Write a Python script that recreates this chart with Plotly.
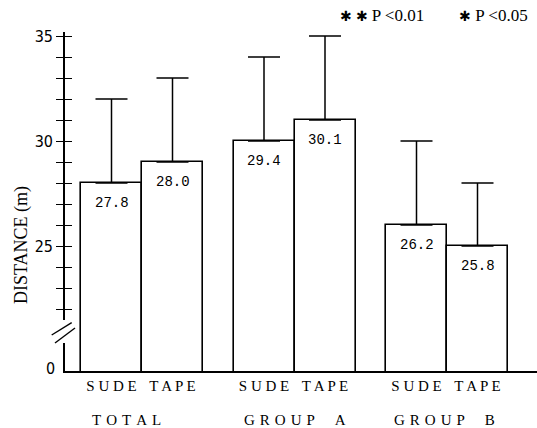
import plotly.graph_objects as go

# ---------------- data ----------------
groups = ["TOTAL", "GROUP A", "GROUP B"]
conditions = ["SUDE", "TAPE"]
bar_tops = [28, 29, 30, 31, 26, 25]            # drawn bar heights (m)
bar_labels = ["27.8", "28.0", "29.4", "30.1", "26.2", "25.8"]
error_tops = [32, 33, 34, 35, 30, 28]          # top of the SD whiskers (m)
y_tick_values = list(range(22, 36))
y_labeled = [25, 30, 35]
legend_stars = ["\u2731 \u2731", "\u2731"]
legend_texts = ["P <0.01", "P <0.05"]

# ---------------- geometry ----------------
W, H = 537, 428
ML, MR, MT, MB = 65, 0, 32, 57
PW, PH = W - ML - MR, H - MT - MB            # 472 x 339
PX_UNIT = 21.0                                # px per metre on the upper part
Y_TOP = 35 + (36 - MT) / PX_UNIT
Y_BOT = 35 - (MT + PH - 36) / PX_UNIT         # position of the broken "0"
BAR_W_PX = 61.0
X_LEFT = -46.5 / BAR_W_PX
X_RIGHT = X_LEFT + PW / BAR_W_PX


def px_x(px):
    return (px - ML) / PW


def px_y(py):
    return 35 - (py - 36) / PX_UNIT


def py_paper(py):
    return 1 - (py - MT) / PH


def spaced(word, gap="\u2004", word_gap="\u2004\u2004\u2004\u2004"):
    return word_gap.join(gap.join(w) for w in word.split(" "))


x_pos = [g * 2.5 + c for g in range(len(groups)) for c in range(len(conditions))]
x_text = [" ".join(c) for g in groups for c in conditions]
err_plus = [e - t for e, t in zip(error_tops, bar_tops)]
err_minus = [0 for _ in bar_tops]

SERIF = "Liberation Serif, Times New Roman, serif"
MONO = "Liberation Mono, DejaVu Sans Mono, monospace"
NARROW = "Liberation Sans Narrow, DejaVu Sans Condensed, Liberation Mono, sans-serif"

fig = go.Figure()
fig.add_trace(go.Bar(
    x=x_pos, y=bar_tops, width=1.0,
    marker=dict(color="white", line=dict(color="black", width=1.6)),
    error_y=dict(type="data", symmetric=False, array=err_plus, arrayminus=err_minus,
                 color="black", thickness=1.5, width=16),
    showlegend=False, hoverinfo="skip",
))
# invisible companion trace so that the inside-tick overlay axis is drawn
fig.add_trace(go.Scatter(x=[x_pos[0]], y=[bar_tops[0]], yaxis="y2", mode="markers",
                         marker=dict(opacity=0), showlegend=False, hoverinfo="skip"))

annotations = []
for x, t, lab in zip(x_pos, bar_tops, bar_labels):
    annotations.append(dict(x=x, y=t, xref="x", yref="y", text=lab, showarrow=False,
                            yshift=-20, xanchor="center", yanchor="middle",
                            font=dict(family=MONO, size=14, color="black")))

group_shift = [-16, 0, -3]
for g, name in enumerate(groups):
    annotations.append(dict(x=g * 2.5 + 0.5, y=py_paper(420), xref="x", yref="paper",
                            text=spaced(name), showarrow=False,
                            xanchor="center", yanchor="middle", xshift=group_shift[g],
                            font=dict(family=SERIF, size=15, color="black")))

# broken-axis zero label
annotations.append(dict(x=0, y=Y_BOT, xref="paper", yref="y", text="0", showarrow=False,
                        xanchor="center", yanchor="middle",
                        xshift=-15, yshift=3, font=dict(family=NARROW, size=16, color="black")))
# y title
annotations.append(dict(x=px_x(21), y=px_y(245), xref="paper", yref="y", text="DISTANCE (m)",
                        textangle=-90, showarrow=False, xanchor="center", yanchor="middle",
                        font=dict(family=SERIF, size=18, color="black")))
# significance legend
for cx, stars, txt in zip([382, 493], legend_stars, legend_texts):
    annotations.append(dict(x=px_x(cx), y=py_paper(15), xref="paper", yref="paper",
                            text=f"<span style='font-size:14px'>{stars}</span> {txt}",
                            showarrow=False, xanchor="center", yanchor="middle",
                            font=dict(family=SERIF, size=17, color="black")))

shapes = [
    # gap in the y axis
    dict(type="rect", xref="paper", yref="y", x0=px_x(60), x1=px_x(70),
         y0=px_y(343), y1=px_y(320), fillcolor="white", line=dict(width=0), layer="above"),
    dict(type="line", xref="paper", yref="y", x0=px_x(51.7), y0=px_y(335),
         x1=px_x(71.7), y1=px_y(322.7), line=dict(color="black", width=1.4), layer="above"),
    dict(type="line", xref="paper", yref="y", x0=px_x(55), y0=px_y(343),
         x1=px_x(75), y1=px_y(328), line=dict(color="black", width=1.4), layer="above"),
]

tick_text = [str(v) if v in y_labeled else "" for v in y_tick_values]

fig.update_layout(
    width=W, height=H,
    margin=dict(l=ML, r=MR, t=MT, b=MB, pad=0),
    paper_bgcolor="white", plot_bgcolor="white",
    bargap=0,
    xaxis=dict(range=[X_LEFT, X_RIGHT], tickmode="array", tickvals=x_pos, ticktext=x_text,
               ticks="", showline=True, linecolor="black", linewidth=1.6,
               showgrid=False, zeroline=False,
               tickfont=dict(family=SERIF, size=15, color="black")),
    yaxis=dict(range=[Y_BOT, Y_TOP], tickmode="array", tickvals=y_tick_values,
               ticktext=tick_text, ticks="outside", ticklen=7, tickwidth=1.4,
               tickcolor="black", showline=True, linecolor="black", linewidth=1.6,
               showgrid=False, zeroline=False,
               tickfont=dict(family=NARROW, size=16, color="black")),
    yaxis2=dict(range=[Y_BOT, Y_TOP], overlaying="y", anchor="x", side="left",
                tickmode="array", tickvals=y_tick_values, showticklabels=False,
                ticks="inside", ticklen=7, tickwidth=1.4, tickcolor="black",
                showline=False, showgrid=False, zeroline=False),
    annotations=annotations,
    shapes=shapes,
)

fig.write_html("out.html", config={"displayModeBar": False},
               post_script="document.body.style.margin='0';")
